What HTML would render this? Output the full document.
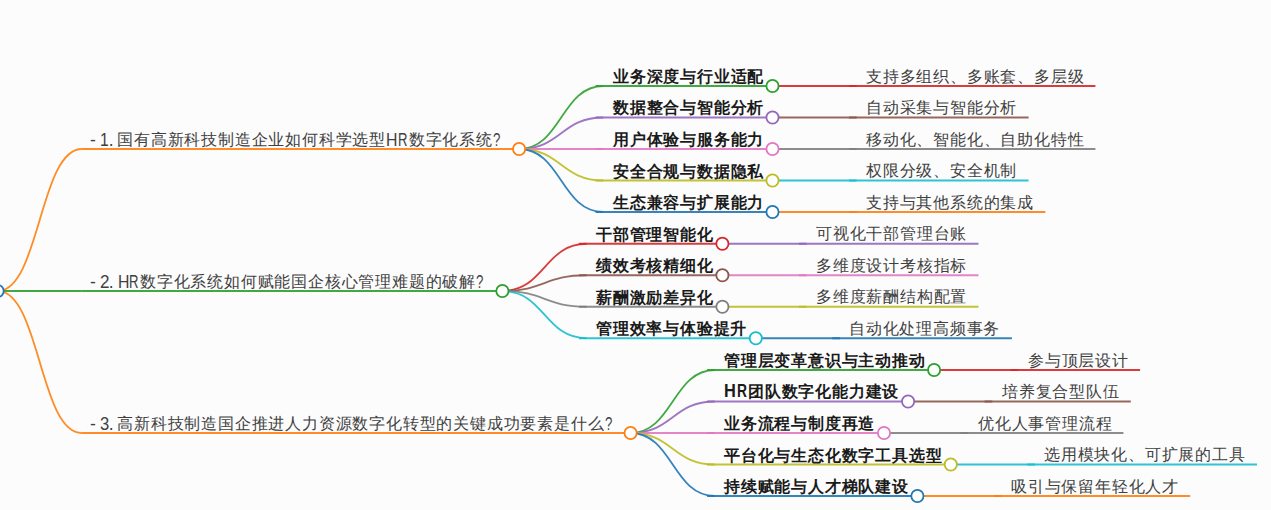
<!DOCTYPE html>
<html><head><meta charset="utf-8"><style>
html,body{margin:0;padding:0;width:1271px;height:510px;overflow:hidden;background:#fcfcfc}
svg{position:absolute;left:0;top:0}
.t{position:absolute;white-space:nowrap;font-family:"Liberation Sans",sans-serif;font-size:16.0px;letter-spacing:0.8px;line-height:20px;color:#404040}
.b{font-weight:bold;color:#1a1a1a}
.t .l{display:inline-block;box-sizing:border-box;letter-spacing:0;font-size:17.5px;line-height:16px;overflow:visible}
.t .l i{display:inline-block;font-style:normal;transform-origin:0 0}
</style></head><body>
<svg width="1271" height="510" viewBox="0 0 1271 510">
<g fill="none" stroke-width="1.8" stroke-opacity="0.9"><path d="M-2.40,291.00C39.70,291.00 39.70,149.00 81.80,149.00" stroke="#ff7f0e"/><path d="M519.10,149.00C561.20,149.00 561.20,86.00 603.30,86.00" stroke="#2ca02c"/><path d="M772.50,86.00C814.60,86.00 814.60,86.00 856.70,86.00" stroke="#d62728"/><path d="M519.10,149.00C561.20,149.00 561.20,117.50 603.30,117.50" stroke="#9467bd"/><path d="M772.50,117.50C814.60,117.50 814.60,117.50 856.70,117.50" stroke="#8c564b"/><path d="M519.10,149.00C561.20,149.00 561.20,149.00 603.30,149.00" stroke="#e377c2"/><path d="M772.50,149.00C814.60,149.00 814.60,149.00 856.70,149.00" stroke="#7f7f7f"/><path d="M519.10,149.00C561.20,149.00 561.20,180.50 603.30,180.50" stroke="#bcbd22"/><path d="M772.50,180.50C814.60,180.50 814.60,180.50 856.70,180.50" stroke="#17becf"/><path d="M519.10,149.00C561.20,149.00 561.20,212.00 603.30,212.00" stroke="#1f77b4"/><path d="M772.50,212.00C814.60,212.00 814.60,212.00 856.70,212.00" stroke="#ff7f0e"/><path d="M-2.40,291.00C39.70,291.00 39.70,291.00 81.80,291.00" stroke="#2ca02c"/><path d="M502.40,291.00C544.50,291.00 544.50,243.75 586.60,243.75" stroke="#d62728"/><path d="M722.40,243.75C764.50,243.75 764.50,243.75 806.60,243.75" stroke="#9467bd"/><path d="M502.40,291.00C544.50,291.00 544.50,275.25 586.60,275.25" stroke="#8c564b"/><path d="M722.40,275.25C764.50,275.25 764.50,275.25 806.60,275.25" stroke="#e377c2"/><path d="M502.40,291.00C544.50,291.00 544.50,306.75 586.60,306.75" stroke="#7f7f7f"/><path d="M722.40,306.75C764.50,306.75 764.50,306.75 806.60,306.75" stroke="#bcbd22"/><path d="M502.40,291.00C544.50,291.00 544.50,338.25 586.60,338.25" stroke="#17becf"/><path d="M755.80,338.25C797.90,338.25 797.90,338.25 840.00,338.25" stroke="#1f77b4"/><path d="M-2.40,291.00C39.70,291.00 39.70,433.00 81.80,433.00" stroke="#ff7f0e"/><path d="M630.60,433.00C672.70,433.00 672.70,370.00 714.80,370.00" stroke="#2ca02c"/><path d="M934.10,370.00C976.20,370.00 976.20,370.00 1018.30,370.00" stroke="#d62728"/><path d="M630.60,433.00C672.70,433.00 672.70,401.50 714.80,401.50" stroke="#9467bd"/><path d="M908.10,401.50C950.20,401.50 950.20,401.50 992.30,401.50" stroke="#8c564b"/><path d="M630.60,433.00C672.70,433.00 672.70,433.00 714.80,433.00" stroke="#e377c2"/><path d="M884.00,433.00C926.10,433.00 926.10,433.00 968.20,433.00" stroke="#7f7f7f"/><path d="M630.60,433.00C672.70,433.00 672.70,464.50 714.80,464.50" stroke="#bcbd22"/><path d="M950.80,464.50C992.90,464.50 992.90,464.50 1035.00,464.50" stroke="#17becf"/><path d="M630.60,433.00C672.70,433.00 672.70,496.00 714.80,496.00" stroke="#1f77b4"/><path d="M917.40,496.00C959.50,496.00 959.50,496.00 1001.60,496.00" stroke="#ff7f0e"/></g>
<g stroke-width="1.8" stroke-opacity="0.9"><line x1="81.80" y1="149.0" x2="519.10" y2="149.0" stroke="#ff7f0e"/><line x1="595.60" y1="86.0" x2="772.50" y2="86.0" stroke="#2ca02c"/><line x1="849.00" y1="86.0" x2="1095.40" y2="86.0" stroke="#d62728"/><line x1="595.60" y1="117.5" x2="772.50" y2="117.5" stroke="#9467bd"/><line x1="849.00" y1="117.5" x2="1028.60" y2="117.5" stroke="#8c564b"/><line x1="595.60" y1="149.0" x2="772.50" y2="149.0" stroke="#e377c2"/><line x1="849.00" y1="149.0" x2="1095.40" y2="149.0" stroke="#7f7f7f"/><line x1="595.60" y1="180.5" x2="772.50" y2="180.5" stroke="#bcbd22"/><line x1="849.00" y1="180.5" x2="1028.60" y2="180.5" stroke="#17becf"/><line x1="595.60" y1="212.0" x2="772.50" y2="212.0" stroke="#1f77b4"/><line x1="849.00" y1="212.0" x2="1045.30" y2="212.0" stroke="#ff7f0e"/><line x1="81.80" y1="291.0" x2="502.40" y2="291.0" stroke="#2ca02c"/><line x1="578.90" y1="243.75" x2="722.40" y2="243.75" stroke="#d62728"/><line x1="798.90" y1="243.75" x2="978.50" y2="243.75" stroke="#9467bd"/><line x1="578.90" y1="275.25" x2="722.40" y2="275.25" stroke="#8c564b"/><line x1="798.90" y1="275.25" x2="978.50" y2="275.25" stroke="#e377c2"/><line x1="578.90" y1="306.75" x2="722.40" y2="306.75" stroke="#7f7f7f"/><line x1="798.90" y1="306.75" x2="978.50" y2="306.75" stroke="#bcbd22"/><line x1="578.90" y1="338.25" x2="755.80" y2="338.25" stroke="#17becf"/><line x1="832.30" y1="338.25" x2="1011.90" y2="338.25" stroke="#1f77b4"/><line x1="81.80" y1="433.0" x2="630.60" y2="433.0" stroke="#ff7f0e"/><line x1="707.10" y1="370.0" x2="934.10" y2="370.0" stroke="#2ca02c"/><line x1="1010.60" y1="370.0" x2="1140.10" y2="370.0" stroke="#d62728"/><line x1="707.10" y1="401.5" x2="908.10" y2="401.5" stroke="#9467bd"/><line x1="984.60" y1="401.5" x2="1130.80" y2="401.5" stroke="#8c564b"/><line x1="707.10" y1="433.0" x2="884.00" y2="433.0" stroke="#e377c2"/><line x1="960.50" y1="433.0" x2="1123.40" y2="433.0" stroke="#7f7f7f"/><line x1="707.10" y1="464.5" x2="950.80" y2="464.5" stroke="#bcbd22"/><line x1="1027.30" y1="464.5" x2="1257.00" y2="464.5" stroke="#17becf"/><line x1="707.10" y1="496.0" x2="917.40" y2="496.0" stroke="#1f77b4"/><line x1="993.90" y1="496.0" x2="1190.20" y2="496.0" stroke="#ff7f0e"/></g>
<g fill="#fff" stroke-width="1.8"><circle cx="519.10" cy="149.0" r="6.1" stroke="#ff7f0e"/><circle cx="772.50" cy="86.0" r="6.1" stroke="#2ca02c"/><circle cx="772.50" cy="117.5" r="6.1" stroke="#9467bd"/><circle cx="772.50" cy="149.0" r="6.1" stroke="#e377c2"/><circle cx="772.50" cy="180.5" r="6.1" stroke="#bcbd22"/><circle cx="772.50" cy="212.0" r="6.1" stroke="#1f77b4"/><circle cx="502.40" cy="291.0" r="6.1" stroke="#2ca02c"/><circle cx="722.40" cy="243.75" r="6.1" stroke="#d62728"/><circle cx="722.40" cy="275.25" r="6.1" stroke="#8c564b"/><circle cx="722.40" cy="306.75" r="6.1" stroke="#7f7f7f"/><circle cx="755.80" cy="338.25" r="6.1" stroke="#17becf"/><circle cx="630.60" cy="433.0" r="6.1" stroke="#ff7f0e"/><circle cx="934.10" cy="370.0" r="6.1" stroke="#2ca02c"/><circle cx="908.10" cy="401.5" r="6.1" stroke="#9467bd"/><circle cx="884.00" cy="433.0" r="6.1" stroke="#e377c2"/><circle cx="950.80" cy="464.5" r="6.1" stroke="#bcbd22"/><circle cx="917.40" cy="496.0" r="6.1" stroke="#1f77b4"/><circle cx="-2.40" cy="291.0" r="6.1" stroke="#1f77b4"/></g>
</svg>
<div class="t" style="left:90px;top:130px"><span class="l" style="width:5.81px;padding-left:-0.01px"><i style="transform:translateY(1px) scaleX(1.000)">-</i></span><span class="l" style="width:3.75px"></span><span class="l" style="width:9.30px;padding-left:0.28px"><i style="transform:translateY(1px) scaleX(0.893)">1</i></span><span class="l" style="width:4.66px;padding-left:-0.38px"><i style="transform:translateY(1px) scaleX(1.000)">.</i></span><span class="l" style="width:3.75px"></span>国有高新科技制造企业如何科学选型<span class="l" style="width:12.19px;padding-left:0.40px"><i style="transform:translateY(1px) scaleX(0.903)">H</i></span><span class="l" style="width:10.64px;padding-left:-0.08px"><i style="transform:translateY(1px) scaleX(0.750)">R</i></span>数字化系统<span class="l" style="width:7.94px;padding-left:0.18px"><i style="transform:translateY(1px) scaleX(0.757)">?</i></span></div>
<div class="t b" style="left:613px;top:67px">业务深度与行业适配</div>
<div class="t" style="left:866px;top:67px">支持多组织、多账套、多层级</div>
<div class="t b" style="left:613px;top:98px">数据整合与智能分析</div>
<div class="t" style="left:866px;top:98px">自动采集与智能分析</div>
<div class="t b" style="left:613px;top:130px">用户体验与服务能力</div>
<div class="t" style="left:866px;top:130px">移动化、智能化、自助化特性</div>
<div class="t b" style="left:613px;top:162px">安全合规与数据隐私</div>
<div class="t" style="left:866px;top:161px">权限分级、安全机制</div>
<div class="t b" style="left:613px;top:193px">生态兼容与扩展能力</div>
<div class="t" style="left:866px;top:193px">支持与其他系统的集成</div>
<div class="t" style="left:90px;top:272px"><span class="l" style="width:5.81px;padding-left:-0.01px"><i style="transform:translateY(1px) scaleX(1.000)">-</i></span><span class="l" style="width:3.75px"></span><span class="l" style="width:9.30px;padding-left:-0.19px"><i style="transform:translateY(1px) scaleX(0.977)">2</i></span><span class="l" style="width:4.66px;padding-left:-0.38px"><i style="transform:translateY(1px) scaleX(1.000)">.</i></span><span class="l" style="width:3.75px"></span><span class="l" style="width:12.19px;padding-left:0.40px"><i style="transform:translateY(1px) scaleX(0.903)">H</i></span><span class="l" style="width:10.64px;padding-left:-0.08px"><i style="transform:translateY(1px) scaleX(0.750)">R</i></span>数字化系统如何赋能国企核心管理难题的破解<span class="l" style="width:7.94px;padding-left:0.18px"><i style="transform:translateY(1px) scaleX(0.757)">?</i></span></div>
<div class="t b" style="left:596px;top:225px">干部管理智能化</div>
<div class="t" style="left:816px;top:224px">可视化干部管理台账</div>
<div class="t b" style="left:596px;top:256px">绩效考核精细化</div>
<div class="t" style="left:816px;top:256px">多维度设计考核指标</div>
<div class="t b" style="left:596px;top:288px">薪酬激励差异化</div>
<div class="t" style="left:816px;top:287px">多维度薪酬结构配置</div>
<div class="t b" style="left:596px;top:319px">管理效率与体验提升</div>
<div class="t" style="left:849px;top:319px">自动化处理高频事务</div>
<div class="t" style="left:90px;top:414px"><span class="l" style="width:5.81px;padding-left:-0.01px"><i style="transform:translateY(1px) scaleX(1.000)">-</i></span><span class="l" style="width:3.75px"></span><span class="l" style="width:9.30px;padding-left:-0.15px"><i style="transform:translateY(1px) scaleX(0.949)">3</i></span><span class="l" style="width:4.66px;padding-left:-0.38px"><i style="transform:translateY(1px) scaleX(1.000)">.</i></span><span class="l" style="width:3.75px"></span>高新科技制造国企推进人力资源数字化转型的关键成功要素是什么<span class="l" style="width:7.94px;padding-left:0.18px"><i style="transform:translateY(1px) scaleX(0.757)">?</i></span></div>
<div class="t b" style="left:724px;top:351px">管理层变革意识与主动推动</div>
<div class="t" style="left:1028px;top:351px">参与顶层设计</div>
<div class="t b" style="left:724px;top:382px"><span class="l" style="width:12.68px;padding-left:0.43px"><i style="transform:translateY(0px) scaleX(0.936)">H</i></span><span class="l" style="width:11.42px;padding-left:-0.08px"><i style="transform:translateY(0px) scaleX(0.788)">R</i></span>团队数字化能力建设</div>
<div class="t" style="left:1002px;top:382px">培养复合型队伍</div>
<div class="t b" style="left:724px;top:414px">业务流程与制度再造</div>
<div class="t" style="left:978px;top:414px">优化人事管理流程</div>
<div class="t b" style="left:724px;top:446px">平台化与生态化数字工具选型</div>
<div class="t" style="left:1044px;top:445px">选用模块化、可扩展的工具</div>
<div class="t b" style="left:724px;top:477px">持续赋能与人才梯队建设</div>
<div class="t" style="left:1011px;top:477px">吸引与保留年轻化人才</div>
</body></html>
